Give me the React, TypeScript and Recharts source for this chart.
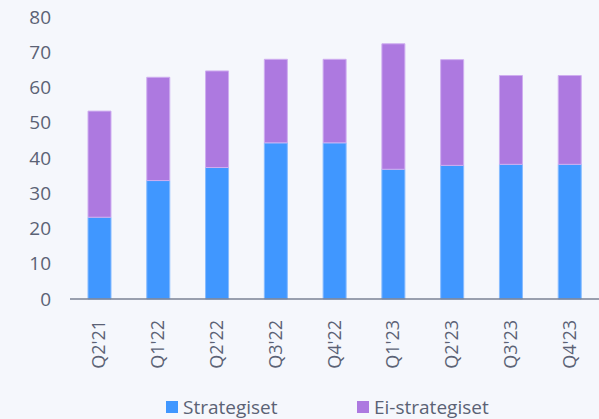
import { BarChart, Bar, XAxis, YAxis, Legend } from 'recharts';

const quarters = ["Q2'21", "Q1'22", "Q2'22", "Q3'22", "Q4'22", "Q1'23", "Q2'23", "Q3'23", "Q4'23"];
const strategiset = [23.2, 33.6, 37.3, 44.3, 44.3, 36.8, 37.9, 38.2, 38.2];
const eiStrategiset = [30.1, 29.3, 27.4, 23.7, 23.7, 35.6, 30.0, 25.2, 25.2];
const yTicks = [0, 10, 20, 30, 40, 50, 60, 70, 80];

const BLUE = '#4097ff';
const PURPLE = '#ad79e0';
const TEXT = '#5b6275';
const FONT = '"Open Sans", Lato, sans-serif';

const data = quarters.map((q, i) => ({
  name: q,
  strategiset: strategiset[i],
  ei: eiStrategiset[i],
}));

function XTick({ x, y, payload }: any) {
  return (
    <text
      transform={`translate(${x - 1},${y + 13}) rotate(-90)`}
      textAnchor="end"
      dominantBaseline="central"
      fill={TEXT}
      fontSize={18}
      fontFamily={FONT}
    >
      {payload.value}
    </text>
  );
}

function LegendContent() {
  const items = [
    { label: 'Strategiset', color: BLUE },
    { label: 'Ei-strategiset', color: PURPLE },
  ];
  return (
    <div style={{ height: 24, position: 'relative', fontFamily: FONT, fontSize: 19, color: TEXT }}>
      {items.map((it, i) => (
        <div
          key={it.label}
          style={{ position: 'absolute', left: i === 0 ? 166 : 357, top: 0, height: 24, display: 'flex', alignItems: 'center' }}
        >
          <span style={{ width: 12, height: 12, background: it.color, display: 'inline-block', marginRight: 5 }} />
          <span>{it.label}</span>
        </div>
      ))}
    </div>
  );
}

export default function App() {
  return (
    <div style={{ position: 'absolute', top: 0, left: 0, width: 599, height: 419, background: '#f5f7fc' }}>
      <BarChart width={599} height={419} data={data} margin={{ top: 17, right: 0, left: 0, bottom: 0 }}>
        <XAxis
          dataKey="name"
          height={96}
          tick={<XTick />}
          tickLine={false}
          axisLine={{ stroke: '#7a8294', strokeWidth: 1.5 }}
          interval={0}
        />
        <YAxis
          width={70}
          domain={[0, 80]}
          ticks={yTicks}
          axisLine={false}
          tickLine={false}
          tickMargin={13}
          tick={{ fill: TEXT, fontSize: 19, fontFamily: FONT }}
        />
        <Legend verticalAlign="bottom" content={<LegendContent />} />
        <Bar dataKey="strategiset" stackId="a" fill={BLUE} stroke="#86bbff" strokeWidth={1} barSize={23} isAnimationActive={false} />
        <Bar dataKey="ei" stackId="a" fill={PURPLE} stroke="#cfaef0" strokeWidth={1} barSize={23} isAnimationActive={false} />
      </BarChart>
    </div>
  );
}
